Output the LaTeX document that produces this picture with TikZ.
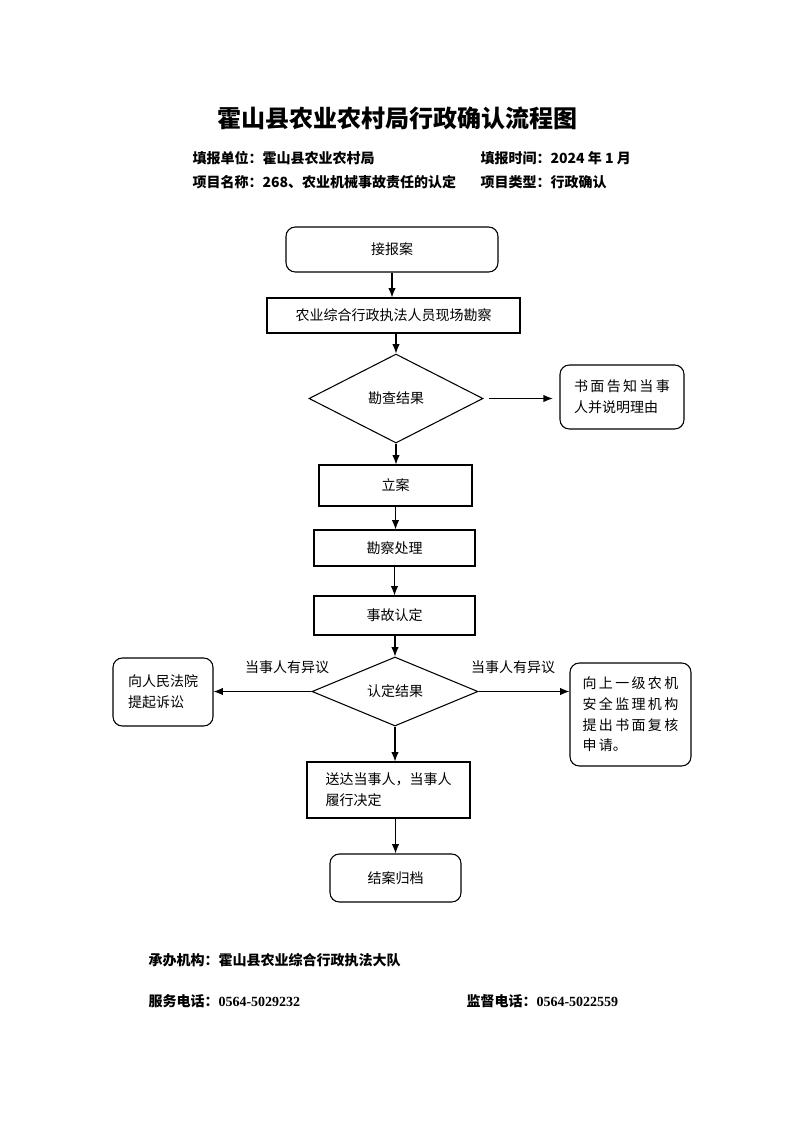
\documentclass[tikz,border=0pt]{standalone}
\usepackage{fontspec}
\setmainfont{Noto Sans CJK SC}
\newfontfamily\latin{Liberation Serif}
\usetikzlibrary{shapes.geometric,arrows.meta}
\tikzset{
  box/.style = {draw, line width=0.8pt, inner sep=2pt,
    font=\fontsize{10.5}{15.5}\selectfont},
  rbox/.style = {box, rounded corners=7pt},
  choice/.style = {box, diamond, inner sep=0pt},
  head/.style = {font=\fontsize{10.5}{13}\selectfont\bfseries, inner sep=0pt},
  foot/.style = {font=\fontsize{10.5}{13}\selectfont\bfseries, inner sep=0pt},
  note/.style = {font=\fontsize{10.5}{13}\selectfont, inner sep=0pt}
}
\tikzset{>={Latex[length=7pt,width=5.5pt]}}

\begin{document}
\begin{tikzpicture}[x=0.75pt,y=-0.75pt,line width=0.8pt]
  \useasboundingbox (0,0) rectangle (793,1122);
  %
  \node[font=\fontsize{18}{22}\selectfont\bfseries] (title) at (397,118) {霍山县农业农村局行政确认流程图};
  \node[head,anchor=west] (unit) at (192,158) {填报单位：霍山县农业农村局};
  \node[head,anchor=west] (time) at (480,158) {填报时间：2024 年 1 月};
  \node[head,anchor=west] (item) at (192,182) {项目名称：268、农业机械事故责任的认定};
  \node[head,anchor=west] (kind) at (480,182) {项目类型：行政确认};
  %
  \node[rbox, minimum width=159pt, minimum height=33.75pt] (recv) at (392,249.5) {接报案};
  \node[box, minimum width=189.75pt, minimum height=26.25pt] (site) at (393.5,315.5) {农业综合行政执法人员现场勘察};
  \node[choice, minimum width=130.5pt, minimum height=66.75pt] (check) at (396,398.5) {勘查结果};
  \node[rbox, minimum width=93pt, minimum height=48pt, align=left] (tell) at (622,397)
    {书\,面\,告\,知\,当\,事\\人并说明理由};
  \node[box, minimum width=114.75pt, minimum height=30.75pt] (file) at (395.5,485.5) {立案};
  \node[box, minimum width=120.75pt, minimum height=27pt] (deal) at (394.5,548) {勘察处理};
  \node[box, minimum width=120.75pt, minimum height=29.25pt] (fix) at (394.5,615.5) {事故认定};
  \node[choice, minimum width=124.5pt, minimum height=48.75pt] (result) at (395,691.5) {认定结果};
  \node[rbox, minimum width=75pt, minimum height=51pt, align=left] (court) at (163,692)
    {向人民法院\\提起诉讼};
  \node[rbox, minimum width=90.75pt, minimum height=77.25pt, align=left] (review) at (630.5,714.5)
    {向\,上\,一\,级\,农\,机\\安\,全\,监\,理\,机\,构\\提\,出\,书\,面\,复\,核\\申\,请。};
  \node[box, minimum width=122.25pt, minimum height=42pt, align=left] (serve) at (388.5,790)
    {送达当事人，当事人\\履行决定};
  \node[rbox, minimum width=98.25pt, minimum height=36pt] (close) at (395.5,878) {结案归档};
  %
  \draw[->] (recv.south) to (recv.south |- site.north);
  \draw[->] (check.north |- site.south) to (check.north);
  \draw[->, shorten <=4pt, shorten >=5pt] (check.east) to (tell.west |- check.east);
  \draw[->] (check.south) to (check.south |- file.north);
  \draw[->] (file.south) to (file.south |- deal.north);
  \draw[->] (deal.south) to (deal.south |- fix.north);
  \draw[->] (result.north |- fix.south) to (result.north);
  \draw[->] (result.west) to (court.east |- result.west);
  \draw[->] (result.east) to (review.west |- result.east);
  \draw[->] (result.south) to (result.south |- serve.north);
  \draw[->] (close.north |- serve.south) to (close.north);
  %
  \node[note] (lobj) at (287,667) {当事人有异议};
  \node[note] (robj) at (513,667) {当事人有异议};
  %
  \node[foot,anchor=west] (org) at (148,960) {承办机构：霍山县农业综合行政执法大队};
  \node[foot,anchor=west] (tel) at (148,1001) {服务电话：{\latin 0564-5029232}};
  \node[foot,anchor=west] (sup) at (466,1001) {监督电话：{\latin 0564-5022559}};
\end{tikzpicture}
\end{document}
